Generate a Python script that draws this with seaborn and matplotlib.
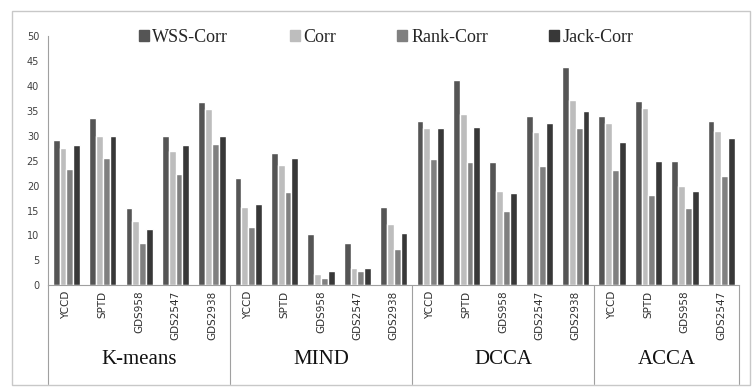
import pandas as pd
import seaborn as sns
import matplotlib.pyplot as plt
import matplotlib.patches as mpatches
from matplotlib.transforms import blended_transform_factory

# methods and datasets along the category axis
methods = ['K-means', 'MIND', 'DCCA', 'ACCA']
datasets = {
    'K-means': ['YCCD', 'SPTD', 'GDS958', 'GDS2547', 'GDS2938'],
    'MIND': ['YCCD', 'SPTD', 'GDS958', 'GDS2547', 'GDS2938'],
    'DCCA': ['YCCD', 'SPTD', 'GDS958', 'GDS2547', 'GDS2938'],
    'ACCA': ['YCCD', 'SPTD', 'GDS958', 'GDS2547'],
}
series = ['WSS-Corr', 'Corr', 'Rank-Corr', 'Jack-Corr']

wss_corr = [29.2, 33.5, 15.6, 30.0, 36.9,
            21.5, 26.5, 10.2, 8.4, 15.8,
            33.0, 41.3, 24.7, 34.0, 43.9,
            34.0, 37.0, 25.0, 33.0]
corr = [27.5, 30.0, 13.0, 27.0, 35.4,
        15.8, 24.1, 2.2, 3.4, 12.3,
        31.5, 34.5, 19.0, 30.8, 37.2,
        32.6, 35.6, 20.0, 31.0]
rank_corr = [23.3, 25.5, 8.5, 22.3, 28.4,
             11.6, 18.8, 1.4, 2.9, 7.3,
             25.3, 24.7, 14.9, 24.0, 31.6,
             23.2, 18.1, 15.6, 22.0]
jack_corr = [28.1, 30.0, 11.2, 28.2, 30.0,
             16.3, 25.5, 2.9, 3.4, 10.4,
             31.6, 31.8, 18.5, 32.5, 35.0,
             28.7, 25.0, 19.0, 29.5]

colors = ['#555555', '#bdbdbd', '#808080', '#383838']

# build long table
keys, labels = [], []
for m in methods:
    for d in datasets[m]:
        keys.append(m + '|' + d)
        labels.append(d)
rows = []
for name, vals in zip(series, [wss_corr, corr, rank_corr, jack_corr]):
    for k, v in zip(keys, vals):
        rows.append({'cat': k, 'series': name, 'value': v})
df = pd.DataFrame(rows)

sns.set_style('white')
plt.rcParams['font.family'] = ['DejaVu Sans']

fig = plt.figure(figsize=(7.53, 3.87), dpi=100)
ax = fig.add_axes([0.064, 0.263, 0.918, 0.643])

sns.barplot(data=df, x='cat', y='value', hue='series', order=keys,
            hue_order=series, palette=colors, saturation=1.0,
            width=0.75, gap=0, legend=False, ax=ax)

ax.set_xlim(-0.5, len(keys) - 0.5)
ax.set_ylim(0, 50)
ax.set_yticks(range(0, 51, 5))
ax.tick_params(axis='y', labelsize=7, colors='#404040', length=3, width=0.6)
ax.set_xticks(range(len(keys)))
ax.set_xticklabels(labels, rotation=90, fontsize=7.5, color='#303030')
ax.tick_params(axis='x', length=0, pad=4)
ax.set_xticks([i - 0.5 for i in range(len(keys) + 1)], minor=True)
ax.tick_params(axis='x', which='minor', length=4, width=0.6, color='#a0a0a0', direction='out')
ax.set_xlabel('')
ax.set_ylabel('')
for s in ['top', 'right']:
    ax.spines[s].set_visible(False)
for s in ['left', 'bottom']:
    ax.spines[s].set_color('#a0a0a0')
    ax.spines[s].set_linewidth(0.8)

# group separators and method labels below the axis
trans = blended_transform_factory(ax.transData, ax.transAxes)
bottom_axes = (3 / 387 - 0.263) / 0.643
label_y = ((387 - 360) / 387 - 0.263) / 0.643
pos = -0.5
bounds = [pos]
for m in methods:
    n = len(datasets[m])
    ax.text(pos + n / 2, label_y, m,
            transform=trans, ha='center', va='center', fontsize=15,
            family='Liberation Serif', color='#111111')
    pos += n
    bounds.append(pos)
for b in bounds:
    ax.plot([b, b], [0, bottom_axes], transform=trans, color='#a0a0a0',
            lw=0.8, clip_on=False)

# legend
handles = [mpatches.Patch(color=c, label=s) for c, s in zip(colors, series)]
fig.legend(handles=handles, loc='center', bbox_to_anchor=(0.513, 0.903), ncol=4,
           frameon=False, prop={'family': 'Liberation Serif', 'size': 13},
           handlelength=0.55, handleheight=0.55, handletextpad=0.2, columnspacing=3.4)

# outer frame
fig.patches.append(mpatches.Rectangle((12 / 753, 2 / 387), 738 / 753, 374 / 387,
                                      transform=fig.transFigure, fill=False,
                                      edgecolor='#c8c8c8', lw=1))

fig.savefig('out.png', dpi=100)
